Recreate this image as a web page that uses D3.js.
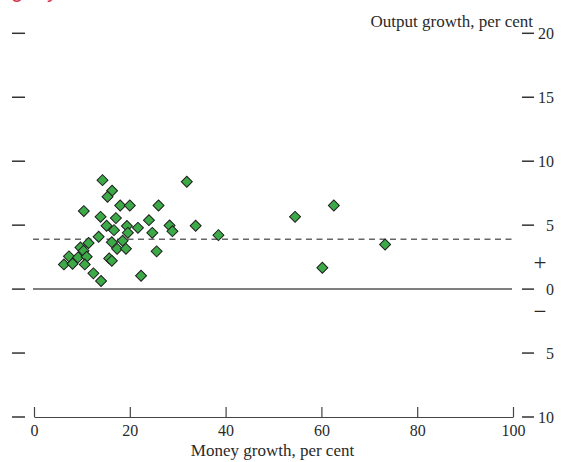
<!DOCTYPE html>
<html>
<head>
<meta charset="utf-8">
<script src="https://cdn.jsdelivr.net/npm/d3@7"></script>
<style>
  html, body { margin: 0; padding: 0; background: #fff; }
  svg { display: block; }
  text { font-family: "Liberation Serif", "DejaVu Serif", serif; fill: #2a2a2a; }
</style>
</head>
<body>
<svg id="chart" width="563" height="462"></svg>
<script>
// ---- data ----
const moneyGrowth = [14.3, 16.3, 15.35, 18.0, 20.0, 26.0, 10.4, 13.9, 17.1, 24.0,
  15.15, 19.4, 16.7, 21.7, 19.6, 24.7, 13.5, 16.25, 18.5, 17.35,
  19.2, 25.6, 11.4, 9.7, 10.35, 7.3, 9.2, 11.0, 6.25, 8.05,
  10.6, 15.7, 16.25, 12.4, 22.35, 14.0, 31.9, 33.75, 28.3, 28.9,
  38.5, 54.5, 62.6, 60.2, 73.3];
const outputGrowth = [8.52, 7.69, 7.22, 6.54, 6.54, 6.54, 6.10, 5.65, 5.55, 5.39,
  4.95, 4.93, 4.61, 4.79, 4.40, 4.40, 4.09, 3.67, 3.78, 3.15,
  3.15, 2.95, 3.60, 3.26, 2.99, 2.56, 2.48, 2.53, 1.93, 1.98,
  1.93, 2.40, 2.21, 1.23, 1.04, 0.63, 8.39, 4.95, 4.98, 4.53,
  4.22, 5.65, 6.54, 1.67, 3.49];
const averageOutput = 3.9;
const xTicks = [0, 20, 40, 60, 80, 100];
const yTicks = [20, 15, 10, 5, 0, -5, -10];
const yTickLabels = ["20", "15", "10", "5", "0", "5", "10"];
const xTitle = "Money growth, per cent";
const yTitle = "Output growth, per cent";

// ---- drawing ----
const svg = d3.select("#chart");
const x = d3.scaleLinear().domain([0, 100]).range([34, 513]);
const y = d3.scaleLinear().domain([-10, 20]).range([417, 33.3]);

// red title remnant (cropped off top)
svg.append("text").attr("x", 11).attr("y", -3)
  .style("font-family", "Liberation Sans, Arial, sans-serif")
  .style("font-size", "22px").style("fill", "#d8344c").text("g");
svg.append("text").attr("x", 47).attr("y", -3)
  .style("font-family", "Liberation Sans, Arial, sans-serif")
  .style("font-size", "22px").style("fill", "#d8344c").text("y");

// left ticks
svg.append("g").selectAll("line").data(yTicks).join("line")
  .attr("x1", 12).attr("x2", 25)
  .attr("y1", d => y(d)).attr("y2", d => y(d))
  .attr("stroke", "#333").attr("stroke-width", 1.5);

// right ticks
svg.append("g").selectAll("line").data(yTicks).join("line")
  .attr("x1", 522).attr("x2", 534)
  .attr("y1", d => y(d)).attr("y2", d => y(d))
  .attr("stroke", "#333").attr("stroke-width", 1.5);
svg.append("g").selectAll("text").data(yTicks).join("text")
  .attr("x", 554).attr("y", d => y(d))
  .attr("text-anchor", "end").attr("dominant-baseline", "central")
  .style("font-size", "16px")
  .text((d, i) => yTickLabels[i]);

// sign markers
svg.append("text").attr("x", 540).attr("y", y(2.05)).attr("text-anchor", "middle")
  .attr("dominant-baseline", "central").style("font-size", "23px").text("+");
svg.append("text").attr("x", 540).attr("y", y(-1.75)).attr("text-anchor", "middle")
  .attr("dominant-baseline", "central").style("font-size", "23px").text("−");

// y title
svg.append("text").attr("x", 533).attr("y", 27).attr("text-anchor", "end")
  .style("font-size", "17px").text(yTitle);

// zero line
svg.append("line").attr("x1", x(0) - 1).attr("x2", x(100) - 1)
  .attr("y1", y(0)).attr("y2", y(0))
  .attr("stroke", "#555").attr("stroke-width", 1.5);

// dashed average line
svg.append("line").attr("x1", x(0) - 1).attr("x2", x(100))
  .attr("y1", y(averageOutput)).attr("y2", y(averageOutput))
  .attr("stroke", "#666").attr("stroke-width", 1.4)
  .attr("stroke-dasharray", "6,4.5");

// x axis
const xAxis = d3.axisBottom(x).tickValues(xTicks).tickSize(0).tickPadding(0);
const gx = svg.append("g").attr("transform", `translate(0,${y(-10)})`).call(xAxis);
gx.select(".domain").attr("stroke", "#444").attr("stroke-width", 1.2);
gx.selectAll(".tick line").attr("y1", 0).attr("y2", -10).attr("stroke", "#444").attr("stroke-width", 1.2);
gx.selectAll(".tick text").attr("y", 13).attr("dy", null)
  .attr("dominant-baseline", "central")
  .style("font-family", "Liberation Serif, serif").style("font-size", "16px").style("fill", "#2a2a2a");

// x title
svg.append("text").attr("x", x(50) - 1).attr("y", 456).attr("text-anchor", "middle")
  .style("font-size", "17px").text(xTitle);

// points (diamonds)
const diamond = d3.symbol().type(d3.symbolSquare).size(60);
svg.append("g").selectAll("path").data(moneyGrowth.map((m, i) => [m, outputGrowth[i]])).join("path")
  .attr("d", diamond)
  .attr("transform", d => `translate(${x(d[0])},${y(d[1])}) rotate(45)`)
  .attr("fill", "#3daa48").attr("stroke", "#1e1e1e").attr("stroke-width", 1);
</script>
</body>
</html>
